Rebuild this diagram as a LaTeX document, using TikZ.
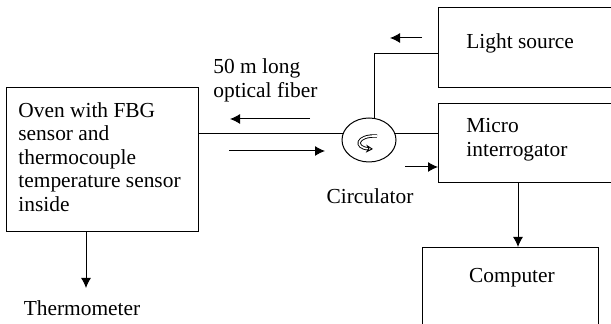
\documentclass[tikz,border=0pt]{standalone}
\usepackage{fontspec}
\setmainfont{Liberation Serif}
\usetikzlibrary{arrows.meta, shapes.geometric, calc, positioning}
\tikzstyle{block} = [rectangle, draw=black, line width=0.5pt, inner sep=0pt, anchor=north west]
\tikzstyle{boxText} = [align=left, inner sep=0pt, font=\fontsize{10.7}{11.75}\selectfont]
\tikzstyle{fiber} = [line width=0.5pt]
\tikzstyle{arrowFlow} = [line width=0.5pt, -{Latex[length=5pt, width=5pt]}]

\begin{document}
\begin{tikzpicture}[x=0.5pt, y=-0.5pt]
    \useasboundingbox (0,0) rectangle (611,324);
    \clip (0,0) rectangle (611,324);

    % boxes
    \node (ovenBox) [block, minimum width=96pt, minimum height=72pt] at (6,87) {};
    \node (lightBox) [block, minimum width=100pt, minimum height=40pt] at (438,7) {};
    \node (microBox) [block, minimum width=100pt, minimum height=39.5pt] at (438,103) {};
    \node (compBox) [block, minimum width=88pt, minimum height=50pt] at (422,247) {};
    \node (circNode) [ellipse, draw=black, line width=0.5pt, minimum width=27pt, minimum height=22pt, inner sep=0pt] at (369,140) {};

    % texts
    \node (ovenText) [boxText, anchor=west] at (18,157) {Oven with FBG\\sensor and\\thermocouple\\temperature sensor\\inside};
    \node (lightText) [boxText, anchor=west] at (466,43) {Light source};
    \node (microText) [boxText, anchor=west] at (466,139.5) {Micro\\interrogator};
    \node (compText) [boxText] at (512,278) {Computer};
    \node (fiberText) [boxText, anchor=west] at (213,80.5) {50 m long\\optical fiber};
    \node (circText) [boxText] at (370,196) {Circulator};
    \node (thermoText) [boxText] at (82,308) {Thermometer};

    % fiber links
    \coordinate (lsJoin) at (438,54);
    \draw [fiber] (ovenBox.east |- circNode.166) -- (circNode.166);
    \draw [fiber] (circNode.14) -- (circNode.14 -| microBox.west);
    \draw [fiber] (circNode.76) |- (lightBox.west |- lsJoin);

    % circulator sign
    \draw [line width=0.45pt, double, double distance=0.8pt, -{Stealth[open, length=3.5pt, width=4pt]}] (377,136) .. controls (356,135) and (354,148) .. (373,149);

    % direction arrows
    \coordinate (srcArrowS) at (422,38);
    \coordinate (srcArrowE) at (390,38);
    \coordinate (backArrowS) at (310,119);
    \coordinate (backArrowE) at (230,119);
    \coordinate (outArrowS) at (229,151);
    \coordinate (outArrowE) at (325,151);
    \coordinate (inArrowS) at (405,167);
    \coordinate (thermoEnd) at (86,288);
    \coordinate (compX) at (518,0);

    \draw [arrowFlow] (srcArrowS) -- (srcArrowE);
    \draw [arrowFlow] (backArrowS) -- (backArrowE);
    \draw [arrowFlow] (outArrowS) -- (outArrowE);
    \draw [arrowFlow] (inArrowS) -- (inArrowS -| microBox.west);
    \draw [arrowFlow] (ovenBox.south -| thermoEnd) -- (thermoEnd);
    \draw [arrowFlow] (microBox.south -| compX) -- (compBox.north -| compX);

\end{tikzpicture}
\end{document}
